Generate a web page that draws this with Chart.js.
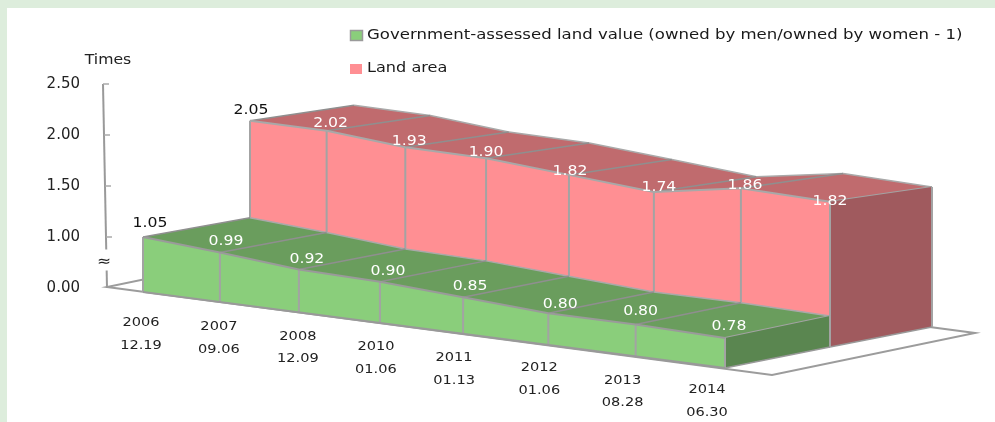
<!DOCTYPE html>
<html><head><meta charset="utf-8">
<style>html,body{margin:0;padding:0;background:#fff}canvas{display:block}</style>
<script src="https://cdn.jsdelivr.net/npm/chart.js@4"></script>
</head><body><canvas id="c" width="995" height="422"></canvas>
<script>
const categories = [['2006','12.19'],['2007','09.06'],['2008','12.09'],['2010','01.06'],['2011','01.13'],['2012','01.06'],['2013','08.28'],['2014','06.30']];
const landValue = [1.05,0.99,0.92,0.90,0.85,0.80,0.80,0.78];
const landArea = [2.05,2.02,1.93,1.90,1.82,1.74,1.86,1.82];
const yTickLabels = ['0.00','1.00','1.50','2.00','2.50'];
const seriesNames = ['Government-assessed land value (owned by men/owned by women - 1)','Land area'];
const axisBreakMark = '≈';
const axisTitle = 'Times';

const FONT = '"DejaVu Sans"';
const STRETCH = 1.12;
const EDGE = '#A3A3A3';
const looks = [
  {front:'#8ACE7B', top:'#6A9D5D', side:'#5A8650', depth:0, shift:[[7,-14],[6,-11],[8,-10],[8,-10],[7,-11],[12,-9],[5,-13],[4,-12]]},
  {front:'#FF8F93', top:'#C06B6E', side:'#A05A5E', depth:1, shift:[[1,-10],[4,-7],[4,-6],[0,-6],[1,-4],[5,-5],[4,-3],[0,0]]}
];
const categoryLabelShift = [[-2,31],[-1,25],[-1,24],[-4,24],[-9,24],[-9,23],[-13,24],[-18,22]];

// Oblique perspective projection of (category position u, height h in value units, depth d).
const frontX = u => 143 + 531*u + 51*u*u;
const depthX = (u,d) => d===0 ? 0 : d===1 ? 107-2*u : 211-4*u;
const depthY = [0,-21,-41];
const unitPx = (u,d) => d===0 ? 100+7*u : d===1 ? 97+13*u : 94+12*u;
function project(chart, i, v, d){
  const xs = chart.scales.x, ys = chart.scales.y;
  const u = (xs.getPixelForValue(i)-xs.left)/xs.width;
  const h = (ys.bottom-ys.getPixelForValue(v))/(ys.height/(ys.max-ys.min));
  const x0 = frontX(u);
  return {x:x0+depthX(u,d), y:292+0.1304*(x0-143)+depthY[d]-h*unitPx(u,d)};
}
function poly(ctx, pts, fill, stroke, w){
  ctx.beginPath();
  pts.forEach((p,k)=> k?ctx.lineTo(p.x,p.y):ctx.moveTo(p.x,p.y));
  ctx.closePath();
  if(fill){ctx.fillStyle=fill;ctx.fill();}
  if(stroke){ctx.strokeStyle=stroke;ctx.lineWidth=w||2;ctx.stroke();}
}
function seg(ctx,a,b,w,col){
  ctx.beginPath();ctx.moveTo(a.x,a.y);ctx.lineTo(b.x,b.y);
  ctx.strokeStyle=col||EDGE;ctx.lineWidth=w||2;ctx.stroke();
}
function text(ctx,s,x,y,size,col,align,stretch){
  ctx.save();ctx.translate(x,y);ctx.scale(stretch||STRETCH,1);
  ctx.font=size+'px '+FONT;ctx.fillStyle=col;ctx.textAlign=align||'center';ctx.textBaseline='middle';
  ctx.fillText(s,0,0);ctx.restore();
}

const plot3d = {
  id:'plot3d',
  beforeDraw(chart){
    const ctx=chart.ctx, ys=chart.scales.y;
    ctx.save();
    ctx.fillStyle='#DDEDDC';ctx.fillRect(0,0,995,422);
    ctx.fillStyle='#fff';ctx.fillRect(7,8,988,414);
    // legend
    ctx.fillStyle=looks[0].front;ctx.strokeStyle='#9a9a9a';ctx.lineWidth=1.5;
    ctx.fillRect(350.5,30.5,12,10);ctx.strokeRect(350.5,30.5,12,10);
    ctx.fillStyle=looks[1].front;ctx.fillRect(350,64,12,10);
    text(ctx,seriesNames[0],367,35,14,'#1a1a1a','left',1.182);
    text(ctx,seriesNames[1],367,68,14,'#1a1a1a','left',1.15);
    text(ctx,axisTitle,108,60.5,14,'#222');
    // floor
    const fl=[{x:107,y:287},{x:772,y:375},{x:975,y:333},{x:310,y:245}];
    poly(ctx,fl,'#fff','#9C9C9C',2);
    // value axis
    const top=ys.getPixelForValue(2.5), bot=ys.getPixelForValue(0.5);
    const ax=y=>103+4*(y-top)/(bot-top);
    const brk=ys.getPixelForValue(0.75);
    seg(ctx,{x:ax(top),y:top},{x:ax(brk-13),y:brk-13},2,'#999');
    seg(ctx,{x:ax(brk+8),y:brk+8},{x:ax(bot),y:bot},2,'#999');
    ys.ticks.forEach(t=>{
      const y=ys.getPixelForValue(t.value);
      if(t.value>0.5) seg(ctx,{x:ax(y),y},{x:ax(y)+6,y},1.5,'#aaa');
    });
    text(ctx,axisBreakMark,104,brk,15,'#222');
    // category labels
    categories.forEach((c,i)=>{
      const p=project(chart,i,0.5,0), s=categoryLabelShift[i];
      text(ctx,c[0],p.x+s[0],p.y+s[1],13,'#222');
      text(ctx,c[1],p.x+s[0],p.y+s[1]+22.5,13,'#222');
    });
    ctx.restore();
  },
  afterDatasetsUpdate(chart){
    chart.data.datasets.forEach((ds,k)=>{
      const d=looks[k].depth;
      chart.getDatasetMeta(k).data.forEach((el,i)=>{
        const p=project(chart,i,ds.data[i],d);
        el.x=p.x;el.y=p.y;
      });
    });
  },
  beforeDatasetDraw(chart,args){
    const ctx=chart.ctx, k=args.index, ds=chart.data.datasets[k], L=looks[k], d=L.depth, n=ds.data.length;
    ctx.save();ctx.lineJoin='round';
    const f=ds.data.map((v,i)=>project(chart,i,v,d));
    const b=ds.data.map((v,i)=>project(chart,i,v,d+1));
    const g=ds.data.map((v,i)=>project(chart,i,0.5,d));
    const gb=project(chart,n-1,0.5,d+1);
    // top surface
    poly(ctx,f.concat(b.slice().reverse()),L.top);
    for(let i=0;i<n-1;i++) seg(ctx,b[i],b[i+1],1.5,'#a9a9a9');
    for(let i=0;i<n;i++) seg(ctx,f[i],b[i],i===n-1?2:1.5,i===n-1?EDGE:'#8f8f8f');
    // end side
    poly(ctx,[f[n-1],b[n-1],gb,g[n-1]],L.side);
    seg(ctx,b[n-1],gb,2);seg(ctx,g[n-1],gb,1.5,'#999');
    // front face
    poly(ctx,f.concat(g.slice().reverse()),L.front);
    for(let i=0;i<n;i++) seg(ctx,f[i],g[i],2);
    seg(ctx,g[0],g[n-1],2,'#999');
    ctx.restore();
  },
  afterDatasetsDraw(chart){
    const ctx=chart.ctx;
    chart.data.datasets.forEach((ds,k)=>{
      ds.data.forEach((v,i)=>{
        const p=project(chart,i,v,looks[k].depth), s=looks[k].shift[i];
        text(ctx,v.toFixed(2),p.x+s[0],p.y+s[1],14,i===0?'#111':'#fff');
      });
    });
  }
};

new Chart(document.getElementById('c'),{
  type:'line',
  data:{
    labels:categories.map(c=>c.join(' ')),
    datasets:[
      {label:seriesNames[0],data:landValue,borderColor:'#9A9A9A',backgroundColor:looks[0].front,borderWidth:2,pointRadius:0,tension:0,fill:false,clip:false},
      {label:seriesNames[1],data:landArea,borderColor:'#A8A8A8',backgroundColor:looks[1].front,borderWidth:2,pointRadius:0,tension:0,fill:false,clip:false}
    ]
  },
  options:{
    responsive:false,animation:false,events:[],
    layout:{padding:{top:84,bottom:134,right:223,left:0}},
    plugins:{legend:{display:false},tooltip:{enabled:false},title:{display:false}},
    scales:{
      x:{display:false,offset:false},
      y:{min:0.5,max:2.5,
        afterFit(s){s.width=105;},
        border:{display:false},
        grid:{display:false,drawTicks:false},
        ticks:{stepSize:0.5,padding:25,color:'#222',font:{family:FONT,size:15},
          callback:(v,i)=>yTickLabels[i]}
      }
    }
  },
  plugins:[plot3d]
});
</script></body></html>
